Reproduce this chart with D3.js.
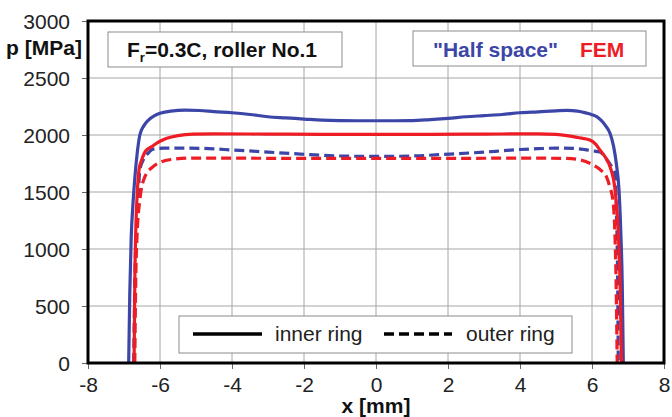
<!DOCTYPE html>
<html>
<head>
<meta charset="utf-8">
<script src="https://cdnjs.cloudflare.com/ajax/libs/d3/7.8.5/d3.min.js"></script>
<style>
  html, body { margin: 0; padding: 0; background: #fff; }
  svg { display: block; font-family: Arial, "Liberation Sans", sans-serif; }
</style>
</head>
<body>
<svg id="chart" width="672" height="417"></svg>
<script>
// Contact pressure distribution along the roller, p [MPa] vs x [mm]
const xTicks = [-8, -6, -4, -2, 0, 2, 4, 6, 8];
const yTicks = [0, 500, 1000, 1500, 2000, 2500, 3000];

// "Half space" model, inner ring
const halfInnerX = [-6.87, -6.84, -6.8, -6.75, -6.7, -6.63, -6.56, -6.45, -6.32, -6.15, -6.0, -5.7, -5.3, -4.9, -4.5, -4.0, -3.5, -3.0, -2.5, -2.0, -1.5, -1.0, -0.5, 0, 0.5, 1.0, 1.5, 2.0, 2.5, 3.0, 3.5, 4.0, 4.5, 5.0, 5.3, 5.6, 5.85, 6.0, 6.13, 6.25, 6.38, 6.5, 6.6, 6.68, 6.75, 6.8, 6.84, 6.87];
const halfInnerP = [0, 600, 1100, 1400, 1620, 1850, 2000, 2080, 2131, 2170, 2190, 2210, 2218, 2215, 2205, 2195, 2180, 2160, 2150, 2140, 2130, 2126, 2125, 2125, 2125, 2126, 2135, 2146, 2160, 2170, 2180, 2195, 2203, 2212, 2216, 2210, 2192, 2178, 2161, 2130, 2080, 2015, 1900, 1740, 1518, 1150, 700, 0];

// "Half space" model, outer ring
const halfOuterX = [-6.73, -6.7, -6.65, -6.6, -6.56, -6.45, -6.3, -6.2, -5.9, -5.5, -4.9, -3.96, -3.0, -2.1, -1.0, 0, 1.0, 2.06, 3.0, 3.44, 4.0, 4.5, 5.0, 5.5, 5.8, 6.0, 6.22, 6.4, 6.55, 6.64, 6.68, 6.71, 6.73];
const halfOuterP = [0, 700, 1200, 1500, 1693, 1790, 1850, 1875, 1885, 1885, 1883, 1868, 1850, 1833, 1816, 1812, 1816, 1833, 1850, 1860, 1873, 1880, 1885, 1882, 1872, 1862, 1850, 1790, 1720, 1664, 1300, 800, 0];

// FEM model, inner ring
const femInnerX = [-6.72, -6.7, -6.67, -6.63, -6.58, -6.51, -6.4, -6.23, -6.0, -5.81, -5.5, -5.08, -4.5, -3.0, -1.5, 0, 1.5, 3.0, 4.5, 5.0, 5.3, 5.6, 5.94, 6.1, 6.22, 6.38, 6.5, 6.64, 6.73, 6.78, 6.82];
const femInnerP = [0, 700, 1200, 1500, 1700, 1780, 1860, 1898, 1945, 1971, 1995, 2008, 2010, 2008, 2006, 2006, 2006, 2008, 2010, 2005, 1995, 1978, 1956, 1920, 1868, 1800, 1722, 1518, 1140, 700, 0];

// FEM model, outer ring
const femOuterX = [-6.7, -6.68, -6.64, -6.56, -6.42, -6.2, -6.0, -5.7, -5.1, -4.0, -2.0, 0, 2.0, 4.0, 5.3, 5.7, 6.03, 6.25, 6.4, 6.5, 6.58, 6.64, 6.67, 6.7];
const femOuterP = [0, 600, 1100, 1430, 1634, 1720, 1760, 1785, 1798, 1797, 1795, 1795, 1795, 1797, 1795, 1780, 1737, 1690, 1634, 1540, 1430, 1100, 700, 0];

const seriesList = [
  { x: halfInnerX, p: halfInnerP, color: "#3c46a8", dash: null },
  { x: halfOuterX, p: halfOuterP, color: "#3c46a8", dash: "10,5" },
  { x: femInnerX,  p: femInnerP,  color: "#ee1c25", dash: null },
  { x: femOuterX,  p: femOuterP,  color: "#ee1c25", dash: "10,5" }
];

const svg = d3.select("#chart");
const plot = { left: 88, right: 664, top: 21, bottom: 363 };
const FS = 21;

const xScale = d3.scaleLinear().domain([-8, 8]).range([plot.left, plot.right]);
const yScale = d3.scaleLinear().domain([0, 3000]).range([plot.bottom, plot.top]);

// plain hyphen for negative tick values
const fmt = d => String(d);

// grid
const grid = svg.append("g");
grid.selectAll("line.vx").data(xTicks).join("line")
  .attr("x1", d => xScale(d)).attr("x2", d => xScale(d))
  .attr("y1", plot.top).attr("y2", plot.bottom)
  .attr("stroke", "#a6a6a6").attr("stroke-width", 1);
grid.selectAll("line.hy").data(yTicks).join("line")
  .attr("y1", d => yScale(d)).attr("y2", d => yScale(d))
  .attr("x1", plot.left).attr("x2", plot.right)
  .attr("stroke", "#a6a6a6").attr("stroke-width", 1);

// axes
const xAxis = svg.append("g")
  .attr("transform", `translate(0,${plot.bottom})`)
  .call(d3.axisBottom(xScale).tickValues(xTicks).tickSize(6).tickPadding(8).tickFormat(fmt));
const yAxis = svg.append("g")
  .attr("transform", `translate(${plot.left},0)`)
  .call(d3.axisLeft(yScale).tickValues(yTicks).tickSize(6).tickPadding(12).tickFormat(fmt));
[xAxis, yAxis].forEach(a => {
  a.select(".domain").remove();
  a.selectAll(".tick line").attr("stroke", "#666");
  a.selectAll(".tick text")
    .attr("fill", "#222")
    .style("font-size", FS + "px")
    .style("font-family", "Arial, 'Liberation Sans', sans-serif");
});
yAxis.selectAll(".tick text").attr("dy", "0.36em");

// legend boxes drawn over the grid
const box1 = svg.append("g");
box1.append("rect").attr("x", 108).attr("y", 32).attr("width", 234).attr("height", 35)
  .attr("fill", "#fff").attr("stroke", "#8c8c8c").attr("stroke-width", 1);
const t1 = box1.append("text").attr("x", 127).attr("y", 57)
  .attr("font-size", FS).attr("font-weight", "bold").attr("fill", "#111");
t1.append("tspan").text("F");
t1.append("tspan").attr("font-size", 13).attr("dy", 5).text("r");
t1.append("tspan").attr("dy", -5).text("=0.3C, roller No.1");

const box2 = svg.append("g");
box2.append("rect").attr("x", 413).attr("y", 31).attr("width", 233).attr("height", 35)
  .attr("fill", "#fff").attr("stroke", "#8c8c8c").attr("stroke-width", 1);
box2.append("text").attr("x", 433).attr("y", 57)
  .attr("font-size", FS).attr("font-weight", "bold").attr("fill", "#3c46a8")
  .text("\"Half space\"");
box2.append("text").attr("x", 580).attr("y", 57)
  .attr("font-size", FS).attr("font-weight", "bold").attr("fill", "#ee1c25")
  .text("FEM");

// curves
const line = d3.line().curve(d3.curveMonotoneX);
const curves = svg.append("g");
seriesList.forEach(s => {
  const pts = s.x.map((xv, i) => [xScale(xv), yScale(s.p[i])]);
  curves.append("path")
    .attr("d", line(pts))
    .attr("fill", "none")
    .attr("stroke", s.color)
    .attr("stroke-width", 3.2)
    .attr("stroke-dasharray", s.dash)
    .attr("stroke-linejoin", "round");
});

// line style legend
const box3 = svg.append("g");
box3.append("rect").attr("x", 179).attr("y", 316).attr("width", 393).attr("height", 37)
  .attr("fill", "#fff").attr("stroke", "#8c8c8c").attr("stroke-width", 1);
box3.append("line").attr("x1", 193).attr("x2", 262).attr("y1", 334).attr("y2", 334)
  .attr("stroke", "#000").attr("stroke-width", 3.5);
box3.append("text").attr("x", 275).attr("y", 341).attr("font-size", FS).attr("fill", "#222").text("inner ring");
box3.append("line").attr("x1", 384).attr("x2", 452).attr("y1", 334).attr("y2", 334)
  .attr("stroke", "#000").attr("stroke-width", 3.5).attr("stroke-dasharray", "10,5");
box3.append("text").attr("x", 466).attr("y", 341).attr("font-size", FS).attr("fill", "#222").text("outer ring");

// plot frame
svg.append("rect")
  .attr("x", plot.left).attr("y", plot.top)
  .attr("width", plot.right - plot.left).attr("height", plot.bottom - plot.top)
  .attr("fill", "none").attr("stroke", "#000").attr("stroke-width", 3);

// axis titles
svg.append("text").attr("x", 44).attr("y", 55).attr("text-anchor", "middle")
  .attr("font-size", FS).attr("font-weight", "bold").attr("fill", "#111").text("p [MPa]");
svg.append("text").attr("x", xScale(0)).attr("y", 413).attr("text-anchor", "middle")
  .attr("font-size", FS).attr("font-weight", "bold").attr("fill", "#111").text("x [mm]");
</script>
</body>
</html>
